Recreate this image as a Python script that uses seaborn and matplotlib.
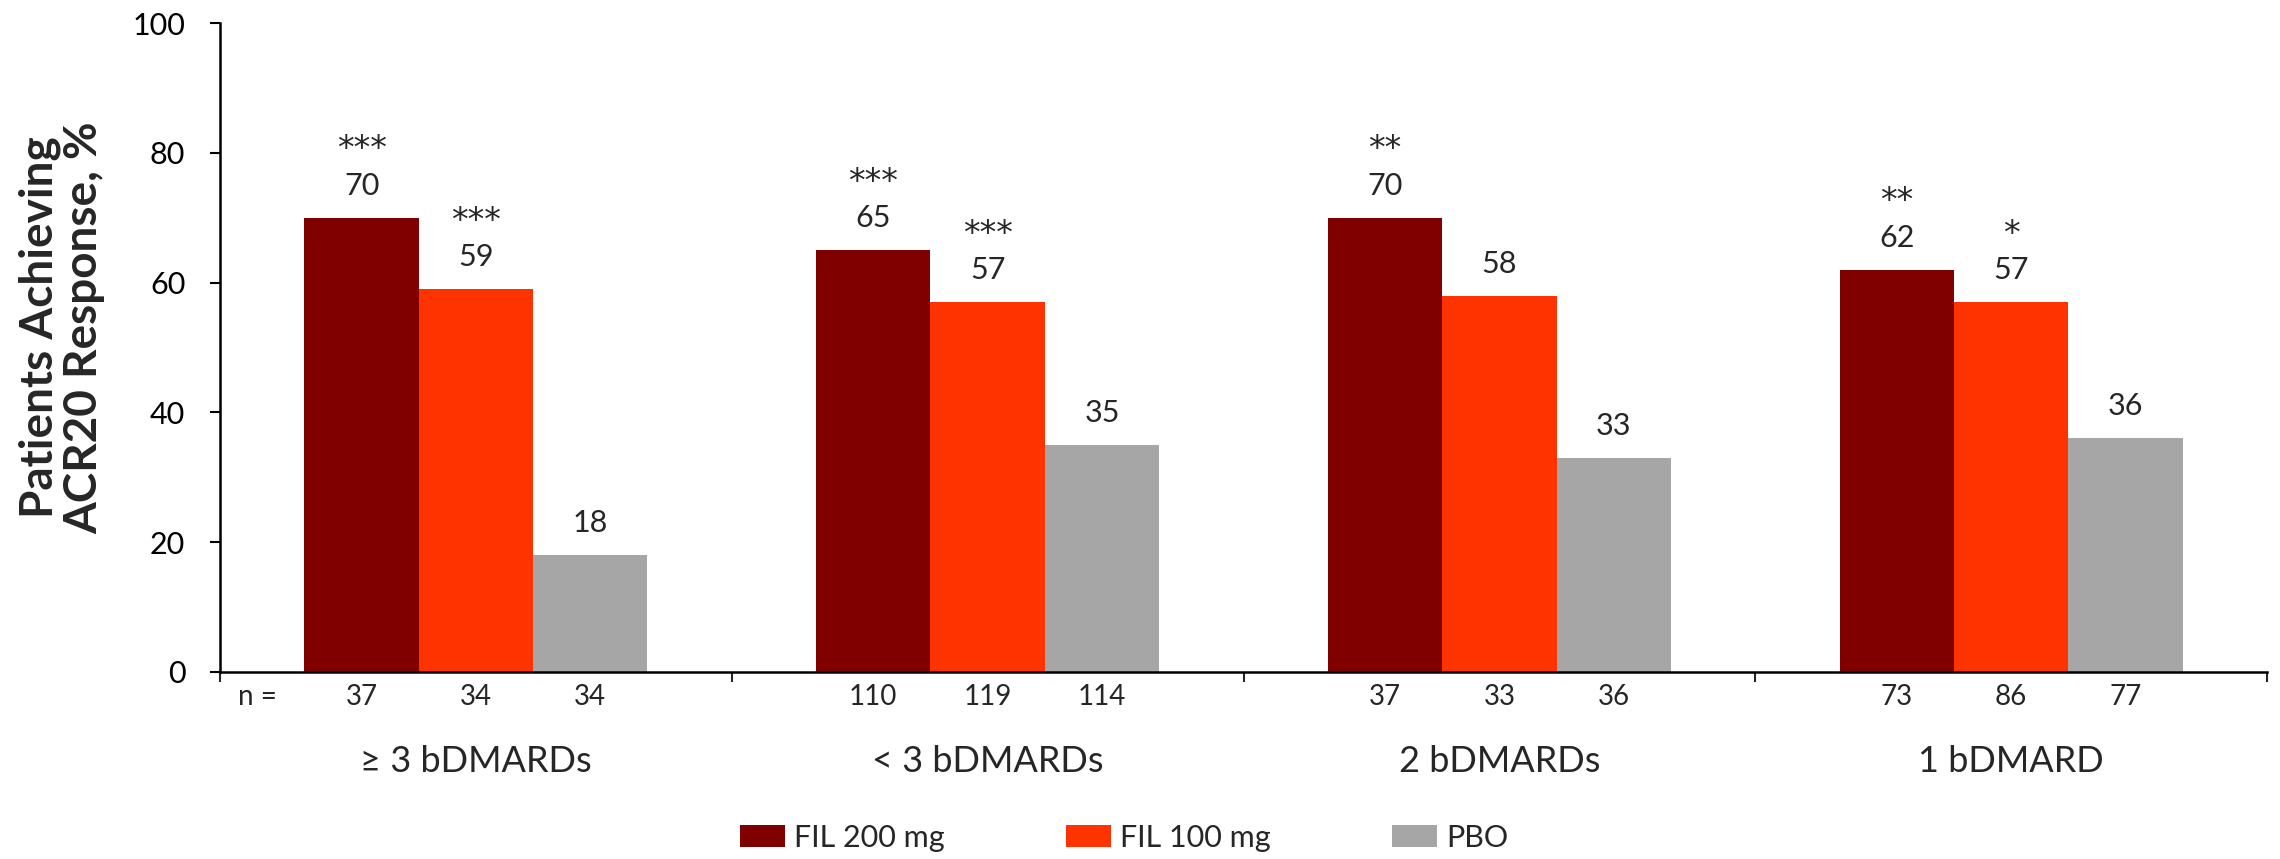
import matplotlib
matplotlib.use("Agg")
import matplotlib.pyplot as plt
import matplotlib.transforms as mtransforms
from matplotlib.patches import Patch
import seaborn as sns
import pandas as pd

# ---- data ----
groups = ["\u2265 3 bDMARDs", "< 3 bDMARDs", "2 bDMARDs", "1 bDMARD"]
treatments = ["FIL 200 mg", "FIL 100 mg", "PBO"]
fil200 = [70, 65, 70, 62]
fil100 = [59, 57, 58, 57]
pbo = [18, 35, 33, 36]
n_fil200 = [37, 110, 37, 73]
n_fil100 = [34, 119, 33, 86]
n_pbo = [34, 114, 36, 77]
stars_fil200 = ["***", "***", "**", "**"]
stars_fil100 = ["***", "***", "", "*"]
stars_pbo = ["", "", "", ""]
colors = ["#800000", "#FF3300", "#A6A6A6"]

values = [fil200, fil100, pbo]
ns = [n_fil200, n_fil100, n_pbo]
stars = [stars_fil200, stars_fil100, stars_pbo]

rows = []
for t, vals in zip(treatments, values):
    for g, v in zip(groups, vals):
        rows.append({"group": g, "treatment": t, "value": v})
df = pd.DataFrame(rows)

sns.set_theme(style="white")
plt.rcParams["font.family"] = ["Lato", "DejaVu Sans"]

fig = plt.figure(figsize=(22.8, 8.59), dpi=100)
ax = fig.add_axes([0.0965, 0.2177, 0.8978, 0.7555])

sns.barplot(data=df, x="group", y="value", hue="treatment", order=groups,
            hue_order=treatments, palette=colors, width=0.67, saturation=1,
            errorbar=None, ax=ax, legend=False, linewidth=0)

ax.set_xlim(-0.5, 3.5)
ax.set_ylim(0, 100)
ax.set_yticks([0, 20, 40, 60, 80, 100])
ax.tick_params(axis="y", labelsize=22, length=7, width=1.5, direction="out",
               left=True, pad=18, colors="black")
ax.set_xticks([-0.5, 0.5, 1.5, 2.5, 3.5])
ax.set_xticklabels([])
ax.tick_params(axis="x", length=7, width=1.5, direction="out", bottom=True)
ax.set_xlabel("")
ax.set_ylabel("")

for side in ["top", "right"]:
    ax.spines[side].set_visible(False)
for side in ["left", "bottom"]:
    ax.spines[side].set_color("black")
    ax.spines[side].set_linewidth(1.8)

fig.text(0.0272, 0.619, "Patients Achieving\nACR20 Response, %", rotation=90,
         ha="center", va="center", fontsize=33, fontweight="bold", linespacing=1.05)

# value labels and significance stars above each bar
for container, st_list in zip(ax.containers, stars):
    for bar, st in zip(container, st_list):
        h = bar.get_height()
        xc = bar.get_x() + bar.get_width() / 2
        ax.annotate(f"{h:.0f}", (xc, h), xytext=(0, 16.5), textcoords="offset points",
                    ha="center", va="baseline", fontsize=22)
        if st:
            ax.annotate(st, (xc, h), xytext=(0, 42), textcoords="offset points",
                        ha="center", va="baseline", fontsize=24, family="DejaVu Sans")

# n row and group labels below the axis
trans = mtransforms.blended_transform_factory(ax.transData, ax.transAxes)
ax.text(-0.427, -0.0508, "n =", transform=trans, ha="center", va="baseline", fontsize=20)
for container, n_list in zip(ax.containers, ns):
    for bar, n in zip(container, n_list):
        xc = bar.get_x() + bar.get_width() / 2
        ax.text(xc, -0.0508, str(n), transform=trans, ha="center", va="baseline",
                fontsize=20)
for i, g in enumerate(groups):
    ax.text(i, -0.154, g, transform=trans, ha="center", va="baseline", fontsize=26)

handles = [Patch(facecolor=c, edgecolor="none") for c in colors]
fig.legend(handles, treatments, loc="center", bbox_to_anchor=(0.493, 0.025),
           ncol=3, frameon=False, fontsize=22, handlelength=1.47, handleheight=0.75,
           columnspacing=3.97, handletextpad=0.3, borderpad=0, borderaxespad=0)

fig.savefig("out.png", dpi=100)
